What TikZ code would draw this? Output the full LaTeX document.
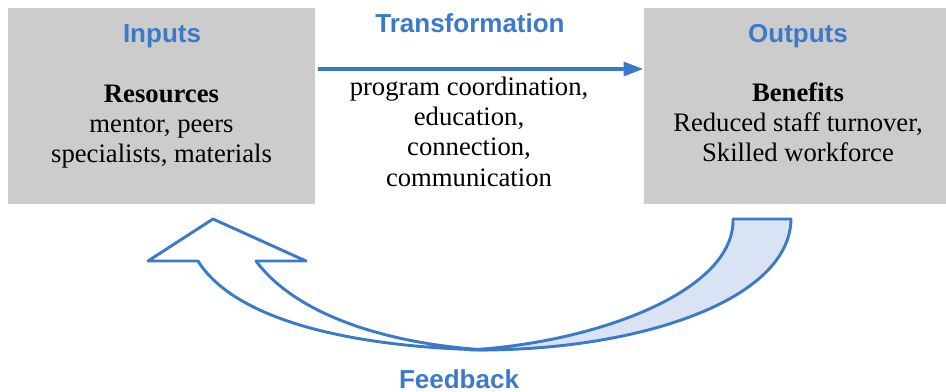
\documentclass[tikz,border=0pt]{standalone}
\usepackage{fontspec}
\setmainfont{Liberation Serif}
\newfontfamily\headfont{Liberation Sans}
\usetikzlibrary{arrows.meta,positioning}
\definecolor{boxgray}{RGB}{204,204,204}
\definecolor{headblue}{RGB}{59,122,201}
\definecolor{backblue}{RGB}{218,227,243}

\begin{document}
\begin{tikzpicture}[x=0.75pt,y=-0.75pt,
  mybox/.style={fill=boxgray,minimum height=147pt,inner sep=0pt},
  mytitle/.style={text=headblue,font={\headfont\bfseries\fontsize{19.5}{23}\selectfont},anchor=base,inner sep=0pt},
  mytext/.style={align=center,font={\fontsize{20}{22.5}\selectfont},anchor=base,inner sep=0pt},
  myflow/.style={draw=headblue,line width=2.2pt,line join=round},
 ]
\useasboundingbox (0,0) rectangle (946,392);

\node[mybox,minimum width=230.25pt] (IN) at (161.5,106) {};
\node[mybox,minimum width=226.5pt] (OUT) at (795,106) {};

\node[mytitle] (T1) at (162,43) {Inputs};
\node[mytitle] (T2) at (470,33) {Transformation};
\node[mytitle] (T3) at (798,43) {Outputs};
\node[mytitle] (T4) at (459,388) {Feedback};

% base anchor sits on the last line
\node[mytext] (L1) at (161.5,163) {\textbf{Resources}\\mentor, peers\\specialists, materials};
\node[mytext] (L2) at (469,186) {program coordination,\\education,\\connection,\\communication};
\node[mytext] (L3) at (798,162) {\textbf{Benefits}\\Reduced staff turnover,\\Skilled workforce};

% straight arrow
\coordinate (A) at (318,69);
\draw[headblue,line width=3.4pt,-{Triangle[length=15pt,width=10pt]}] (A) -- (OUT.west |- A);

% curved feedback arrow
\draw[myflow,fill=backblue] (480,350) .. controls (640,350) and (790,300) .. (791,219)
  -- (733,219) .. controls (735,290) and (600,342) .. (470,350) -- cycle;
\draw[myflow,fill=white] (213,219) -- (306,261) -- (256,261)
  .. controls (300,320) and (400,345) .. (487,350)
  .. controls (350,347) and (235,320) .. (198,261) -- (148,261) -- cycle;

\end{tikzpicture}
\end{document}
